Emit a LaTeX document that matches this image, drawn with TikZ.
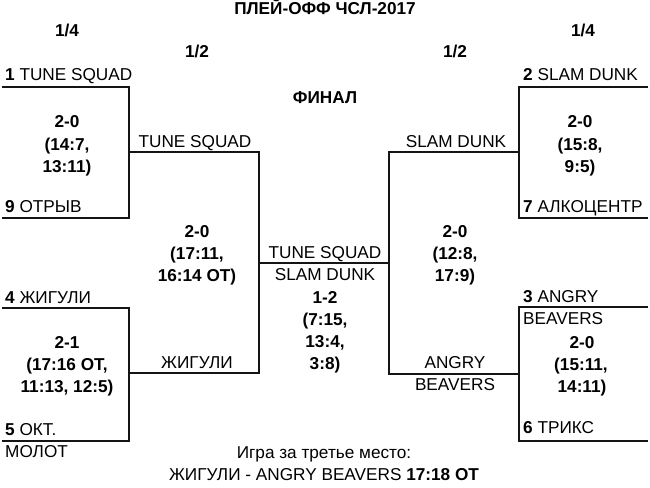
\documentclass[tikz,border=0pt]{standalone}
\usepackage{fontspec}
\setmainfont{Liberation Sans}
\begin{document}
\begin{tikzpicture}[x=1pt,y=-1pt,
 txt/.style={inner sep=0pt, font=\fontsize{17.2}{20}\selectfont},
 lbl/.style={txt, anchor=base west},
 ctr/.style={txt, anchor=base},
 bctr/.style={inner sep=0pt, anchor=base, font=\fontsize{17.2}{20}\selectfont\bfseries},
 bline/.style={line width=1.9pt, black!92}]
\useasboundingbox (0,0) rectangle (650,487);
% corner coordinates
\coordinate (a1) at (2,87);   \coordinate (a2) at (129,87);
\coordinate (a3) at (129,218); \coordinate (a4) at (2,218);
\coordinate (b1) at (2,308);  \coordinate (b2) at (129,308);
\coordinate (b3) at (129,441); \coordinate (b4) at (2,441);
\coordinate (s1) at (129,152); \coordinate (s2) at (259,152);
\coordinate (s3) at (259,373); \coordinate (s4) at (129,373);
\coordinate (f1) at (259,263); \coordinate (f2) at (389,263);
\coordinate (r1) at (519,152); \coordinate (r2) at (389,152);
\coordinate (r3) at (389,374); \coordinate (r4) at (519,374);
\coordinate (c1) at (648,87);  \coordinate (c2) at (519,87);
\coordinate (c3) at (519,218); \coordinate (c4) at (648,218);
\coordinate (d1) at (648,307); \coordinate (d2) at (519,307);
\coordinate (d3) at (519,441); \coordinate (d4) at (648,441);
\draw[bline] (a1) -- (a2) -- (a3) -- (a4);
\draw[bline] (b1) -- (b2) -- (b3) -- (b4);
\draw[bline] (s1) -- (s2) -- (s3) -- (s4);
\draw[bline] (f1) -- (f2);
\draw[bline] (r1) -- (r2) -- (r3) -- (r4);
\draw[bline] (c1) -- (c2) -- (c3) -- (c4);
\draw[bline] (d1) -- (d2) -- (d3) -- (d4);
% headings
\node[bctr] (title) at (325,15) {ПЛЕЙ-ОФФ ЧСЛ-2017};
\node[bctr] (q1) at (67,37) {1/4};
\node[bctr] (q2) at (583,37) {1/4};
\node[bctr] (h1) at (197,58) {1/2};
\node[bctr] (h2) at (455,58) {1/2};
\node[bctr] (fin) at (325,103) {ФИНАЛ};
% left top QF
\node[lbl] (t1) at (5,80) {\textbf{1} TUNE SQUAD};
\node[bctr] (sa1) at (67,127) {2-0};
\node[bctr] (sa2) at (67,150) {(14:7,};
\node[bctr] (sa3) at (67,172) {13:11)};
\node[lbl] (t9) at (5,212) {\textbf{9} ОТРЫВ};
% left bottom QF
\node[lbl] (t4) at (5,303) {\textbf{4} ЖИГУЛИ};
\node[bctr] (sb1) at (67,348) {2-1};
\node[bctr] (sb2) at (67,370) {(17:16 ОТ,};
\node[bctr] (sb3) at (67,392) {11:13, 12:5)};
\node[lbl] (t5) at (5,435) {\textbf{5} ОКТ.};
\node[lbl] (t5b) at (5,457) {МОЛОТ};
% left SF
\node[ctr] (w1) at (195,147) {TUNE SQUAD};
\node[bctr] (ss1) at (197,237) {2-0};
\node[bctr] (ss2) at (197,259) {(17:11,};
\node[bctr] (ss3) at (197,281) {16:14 ОТ)};
\node[ctr] (w4) at (197,368) {ЖИГУЛИ};
% final
\node[ctr] (ft) at (325,258) {TUNE SQUAD};
\node[ctr] (fs) at (325,280) {SLAM DUNK};
\node[bctr] (fr1) at (325,303) {1-2};
\node[bctr] (fr2) at (325,325) {(7:15,};
\node[bctr] (fr3) at (325,347) {13:4,};
\node[bctr] (fr4) at (325,369) {3:8)};
% right SF
\node[ctr] (w2) at (456,147) {SLAM DUNK};
\node[bctr] (rs1) at (455,237) {2-0};
\node[bctr] (rs2) at (455,259) {(12:8,};
\node[bctr] (rs3) at (455,281) {17:9)};
\node[ctr] (w3a) at (455,368) {ANGRY};
\node[ctr] (w3b) at (455,390) {BEAVERS};
% right top QF
\node[lbl] (t2) at (523,80) {\textbf{2} SLAM DUNK};
\node[bctr] (sc1) at (580,127) {2-0};
\node[bctr] (sc2) at (580,150) {(15:8,};
\node[bctr] (sc3) at (580,172) {9:5)};
\node[lbl] (t7) at (523,212) {\textbf{7} АЛКОЦЕНТР};
% right bottom QF
\node[lbl] (t3) at (523,302) {\textbf{3} ANGRY};
\node[lbl] (t3b) at (523,324) {BEAVERS};
\node[bctr] (sd1) at (582,348) {2-0};
\node[bctr] (sd2) at (581,370) {(15:11,};
\node[bctr] (sd3) at (582,392) {14:11)};
\node[lbl] (t6) at (523,433) {\textbf{6} ТРИКС};
% third place
\node[ctr] (th1) at (324,458) {Игра за третье место:};
\node[ctr] (th2) at (324,480) {ЖИГУЛИ - ANGRY BEAVERS \textbf{17:18 ОТ}};
\end{tikzpicture}
\end{document}
